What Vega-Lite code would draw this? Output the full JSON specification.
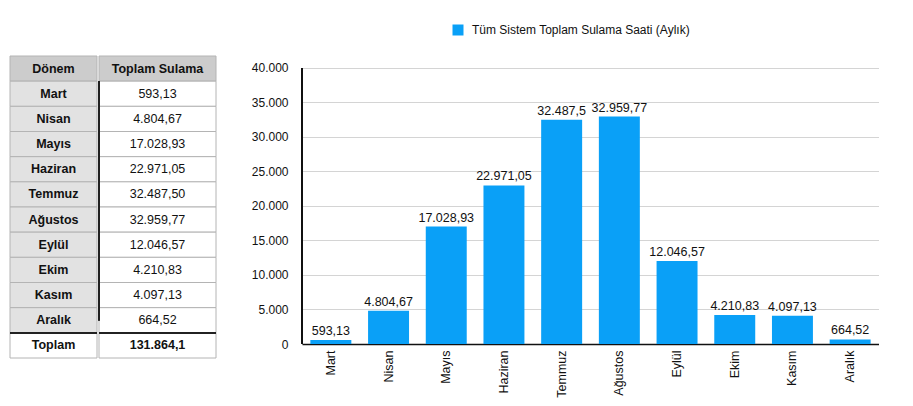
{
  "$schema": "https://vega.github.io/schema/vega-lite/v6.json",
  "padding": {"left": 9, "top": 24, "right": 0, "bottom": 0},
  "background": "white",
  "config": {
    "locale": {"number": {"decimal": ",", "thousands": ".", "grouping": [3], "currency": ["", " ₺"]}},
    "view": {"stroke": null},
    "font": "Liberation Sans"
  },
  "datasets": {
    "aylar": [
      {"ay": "Mart", "saat": 593.13},
      {"ay": "Nisan", "saat": 4804.67},
      {"ay": "Mayıs", "saat": 17028.93},
      {"ay": "Haziran", "saat": 22971.05},
      {"ay": "Temmuz", "saat": 32487.5},
      {"ay": "Ağustos", "saat": 32959.77},
      {"ay": "Eylül", "saat": 12046.57},
      {"ay": "Ekim", "saat": 4210.83},
      {"ay": "Kasım", "saat": 4097.13},
      {"ay": "Aralık", "saat": 664.52}
    ],
    "tablo": [
      {"donem": "Dönem", "saat": null},
      {"donem": "Mart", "saat": 593.13},
      {"donem": "Nisan", "saat": 4804.67},
      {"donem": "Mayıs", "saat": 17028.93},
      {"donem": "Haziran", "saat": 22971.05},
      {"donem": "Temmuz", "saat": 32487.5},
      {"donem": "Ağustos", "saat": 32959.77},
      {"donem": "Eylül", "saat": 12046.57},
      {"donem": "Ekim", "saat": 4210.83},
      {"donem": "Kasım", "saat": 4097.13},
      {"donem": "Aralık", "saat": 664.52},
      {"donem": "Toplam", "saat": 131864.1}
    ]
  },
  "spacing": 34,
  "hconcat": [
    {
      "spacing": 0,
      "hconcat": [
        {
          "width": 87,
          "height": 302,
          "data": {"name": "tablo"},
          "encoding": {
            "y": {"field": "donem", "type": "nominal", "sort": null, "axis": null, "scale": {"paddingInner": 0, "paddingOuter": 0}}
          },
          "layer": [
            {
              "mark": {"type": "rect", "stroke": "#b4b4b4", "strokeWidth": 1},
              "encoding": {
                "fill": {
                  "condition": [
                    {"test": "datum.donem === 'Dönem'", "value": "#cccccc"},
                    {"test": "datum.donem === 'Toplam'", "value": "#ffffff"}
                  ],
                  "value": "#e2e2e2"
                }
              }
            },
            {
              "mark": {"type": "text", "fontWeight": "bold", "fontSize": 12.5, "color": "#111111"},
              "encoding": {"text": {"field": "donem"}}
            },
            {
              "mark": {"type": "rule", "color": "#222222", "strokeWidth": 1.2},
              "encoding": {"y": {"datum": "Toplam", "type": "nominal", "bandPosition": 0}}
            }
          ]
        },
        {
          "width": 117,
          "height": 302,
          "data": {"name": "tablo"},
          "transform": [
            {"calculate": "datum.donem === 'Dönem' ? 'Toplam Sulama' : format(datum.saat, datum.donem === 'Toplam' ? ',.1f' : ',.2f')", "as": "metin"}
          ],
          "encoding": {
            "y": {"field": "donem", "type": "nominal", "sort": null, "axis": null, "scale": {"paddingInner": 0, "paddingOuter": 0}}
          },
          "layer": [
            {
              "mark": {"type": "rect", "stroke": "#b4b4b4", "strokeWidth": 1},
              "encoding": {
                "fill": {
                  "condition": {"test": "datum.donem === 'Dönem'", "value": "#cccccc"},
                  "value": "#ffffff"
                }
              }
            },
            {
              "transform": [{"filter": "datum.donem === 'Dönem' || datum.donem === 'Toplam'"}],
              "mark": {"type": "text", "fontWeight": "bold", "fontSize": 12.5, "color": "#111111"},
              "encoding": {"text": {"field": "metin"}}
            },
            {
              "transform": [{"filter": "datum.donem !== 'Dönem' && datum.donem !== 'Toplam'"}],
              "mark": {"type": "text", "fontSize": 12.5, "color": "#111111"},
              "encoding": {"text": {"field": "metin"}}
            },
            {
              "mark": {"type": "rule", "color": "#222222", "strokeWidth": 1.2},
              "encoding": {"y": {"datum": "Toplam", "type": "nominal", "bandPosition": 0}}
            },
            {
              "mark": {"type": "rule", "color": "#222222", "strokeWidth": 1.2},
              "encoding": {
                "x": {"value": 0},
                "y": {"datum": "Mart", "type": "nominal", "bandPosition": 0},
                "y2": {"datum": "Aralık"}
              }
            }
          ]
        }
      ]
    },
    {
      "width": 577,
      "height": 288,
      "data": {"name": "aylar"},
      "encoding": {
        "x": {
          "field": "ay", "type": "nominal", "sort": null, "title": null,
          "scale": {"paddingInner": 0.29, "paddingOuter": 0.145},
          "axis": {"labelAngle": -90, "labelFontSize": 12.5, "labelColor": "#111111", "ticks": false, "domainColor": "#111111", "domainWidth": 1.5, "labelPadding": 6, "grid": false}
        },
        "y": {
          "field": "saat", "type": "quantitative", "title": null,
          "scale": {"domain": [0, 41739], "nice": false},
          "axis": {"values": [0, 5000, 10000, 15000, 20000, 25000, 30000, 35000, 40000], "format": ",d", "labelFontSize": 12, "labelColor": "#111111", "ticks": false, "domain": false, "labelPadding": 14, "gridColor": "#d4d4d4"}
        }
      },
      "layer": [
        {
          "mark": {"type": "bar"},
          "encoding": {
            "color": {
              "datum": "Tüm Sistem Toplam Sulama Saati (Aylık)",
              "type": "nominal",
              "scale": {"range": ["#0aa0f7"]},
              "legend": {"title": null, "orient": "none", "legendX": 442, "legendY": -32, "padding": 0, "symbolType": "square", "symbolSize": 121, "symbolStrokeWidth": 0, "labelFontSize": 12, "labelColor": "#111111", "labelOffset": 8, "labelLimit": 0}
            }
          }
        },
        {
          "mark": {"type": "rule", "color": "#111111", "strokeWidth": 1.5},
          "encoding": {
            "x": {"value": 0},
            "y": {"datum": 0, "type": "quantitative"},
            "y2": {"datum": 40000}
          }
        },
        {
          "mark": {"type": "text", "fontSize": 12.5, "baseline": "alphabetic", "dy": -5, "color": "#111111"},
          "encoding": {"text": {"field": "saat", "type": "quantitative", "format": ",.2~f"}}
        }
      ]
    }
  ]
}
